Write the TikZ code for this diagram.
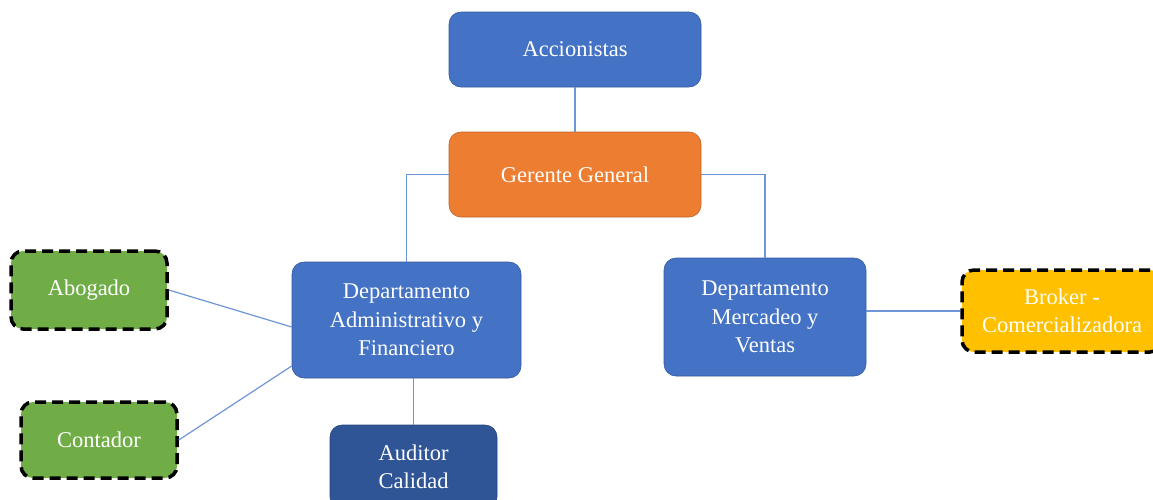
\documentclass[tikz,border=0pt]{standalone}
\usepackage{fontspec}
\setmainfont{Liberation Serif}
\begin{document}
\begin{tikzpicture}[x=1pt,y=-1pt,
  box/.style={rectangle, rounded corners=12pt, draw=#1!80!black, line width=0.6pt, fill=#1, text=white, align=center, font=\fontsize{22.5}{28.5}\selectfont, inner sep=0pt, anchor=center},
  dbox/.style={rectangle, rounded corners=12pt, draw=black, dash pattern=on 11pt off 6pt, line width=3.5pt, fill=#1, text=white, align=center, font=\fontsize{22.5}{28.5}\selectfont, inner sep=0pt, anchor=center},
  conn/.style={draw=lineblue, line width=1.2pt}]
\definecolor{cblue}{HTML}{4472C4}
\definecolor{corange}{HTML}{ED7D31}
\definecolor{cgreen}{HTML}{70AD47}
\definecolor{cyellow}{HTML}{FFC000}
\definecolor{cdark}{HTML}{2F5597}
\definecolor{lineblue}{HTML}{6E95D8}
\clip (0,0) rectangle (1153,499);
\fill[white] (0,0) rectangle (1153,499);
\node[box=cblue, minimum width=252pt, minimum height=75pt] (acc) at (575,49.5) {Accionistas};
\node[box=corange, minimum width=252pt, minimum height=85pt] (ger) at (575,174.5) {Gerente General};
\node[box=cblue, minimum width=229pt, minimum height=116pt] (adm) at (406.5,320) {Departamento\\Administrativo y\\Financiero};
\node[box=cblue, minimum width=202pt, minimum height=118pt] (mer) at (765,317) {Departamento\\Mercadeo y\\Ventas};
\node[dbox=cgreen, minimum width=156pt, minimum height=78pt] (abo) at (89,290) {Abogado};
\node[dbox=cgreen, minimum width=156pt, minimum height=76pt] (con) at (99,440) {Contador};
\node[box=cdark, minimum width=167pt, minimum height=84pt] (aud) at (413.5,467) {Auditor\\Calidad};
\node[dbox=cyellow, minimum width=200pt, minimum height=82pt] (bro) at (1062,311) {Broker -\\Comercializadora};
\draw[conn] (acc.south) -- (ger.north);
\draw[conn] (ger.west) -| (adm.north);
\draw[conn] (ger.east) -| (mer.north);
\draw[conn] (abo.east) -- (adm.west |- 0,327);
\draw[conn] (con.east) -- (adm.west |- 0,366);
\draw[conn] (adm.south -| aud.north) -- (aud.north);
\draw[conn] (mer.east |- bro.west) -- (bro.west);
\end{tikzpicture}
\end{document}
